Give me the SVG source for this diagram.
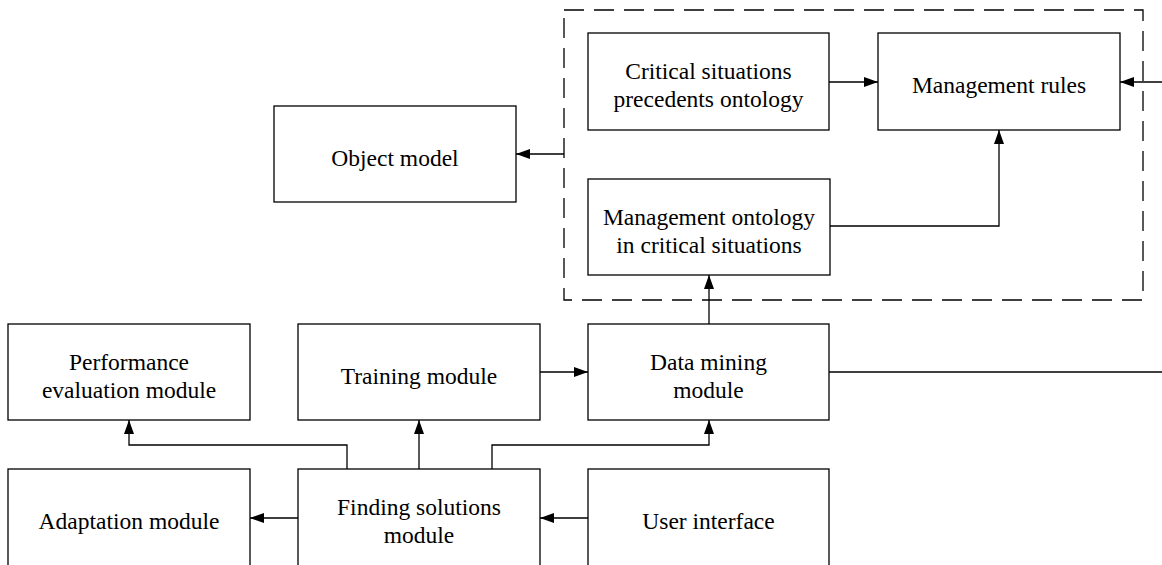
<svg xmlns="http://www.w3.org/2000/svg" width="1162" height="565" viewBox="0 0 1162 565">
  <style>
    .box { fill: #fff; stroke: #000; stroke-width: 1.3; }
    .lbl { font-family: "Liberation Serif", "Times New Roman", serif; font-size: 23.5px; fill: #000; text-anchor: middle; }
    .wire { fill: none; stroke: #000; stroke-width: 1.3; }
    .arr { marker-end: url(#head); }
    .group { fill: none; stroke: #000; stroke-width: 1.3; stroke-dasharray: 20 10; }
  </style>
  <defs>
    <marker id="head" markerUnits="userSpaceOnUse" markerWidth="15" markerHeight="11" refX="14" refY="5" orient="auto">
      <path d="M0,0 L14,5 L0,10 z" fill="#000"/>
    </marker>
  </defs>

  <rect width="1162" height="565" fill="#fff"/>

  <!-- knowledge base boundary -->
  <rect id="knowledge-base" class="group" x="564" y="10" width="579" height="290"/>

  <g id="critical-situations">
    <rect class="box" x="588" y="33" width="241" height="97"/>
    <text class="lbl" x="708.5" y="79">Critical situations</text>
    <text class="lbl" x="708.5" y="107">precedents ontology</text>
  </g>
  <g id="management-rules">
    <rect class="box" x="878" y="33" width="242" height="97"/>
    <text class="lbl" x="999" y="93">Management rules</text>
  </g>
  <g id="object-model">
    <rect class="box" x="274" y="106" width="242" height="96"/>
    <text class="lbl" x="395" y="166">Object model</text>
  </g>
  <g id="management-ontology">
    <rect class="box" x="588" y="179" width="242" height="96"/>
    <text class="lbl" x="709" y="225">Management ontology</text>
    <text class="lbl" x="709" y="253">in critical situations</text>
  </g>
  <g id="performance-evaluation">
    <rect class="box" x="8" y="324" width="242" height="96"/>
    <text class="lbl" x="129" y="370">Performance</text>
    <text class="lbl" x="129" y="398">evaluation module</text>
  </g>
  <g id="training">
    <rect class="box" x="298" y="324" width="242" height="96"/>
    <text class="lbl" x="419" y="384">Training module</text>
  </g>
  <g id="data-mining">
    <rect class="box" x="588" y="324" width="241" height="96"/>
    <text class="lbl" x="708.5" y="370">Data mining</text>
    <text class="lbl" x="708.5" y="398">module</text>
  </g>
  <g id="adaptation">
    <rect class="box" x="8" y="469" width="242" height="100"/>
    <text class="lbl" x="129" y="529">Adaptation module</text>
  </g>
  <g id="finding-solutions">
    <rect class="box" x="298" y="469" width="242" height="100"/>
    <text class="lbl" x="419" y="515">Finding solutions</text>
    <text class="lbl" x="419" y="543">module</text>
  </g>
  <g id="user-interface">
    <rect class="box" x="588" y="469" width="241" height="100"/>
    <text class="lbl" x="708.5" y="529">User interface</text>
  </g>

  <g id="connectors">
    <path class="wire arr" d="M564,154 H516"/>
    <path class="wire arr" d="M829,82 H878"/>
    <path class="wire arr" d="M1162,82 H1120"/>
    <path class="wire arr" d="M830,226 H999 V130"/>
    <path class="wire arr" d="M709,324 V275"/>
    <path class="wire arr" d="M540,372 H588"/>
    <path class="wire" d="M829,372 H1162"/>
    <path class="wire arr" d="M347,469 V445 H129 V420"/>
    <path class="wire arr" d="M419,469 V420"/>
    <path class="wire arr" d="M492,469 V445 H709 V420"/>
    <path class="wire arr" d="M298,518 H250"/>
    <path class="wire arr" d="M588,518 H540"/>
  </g>
</svg>
